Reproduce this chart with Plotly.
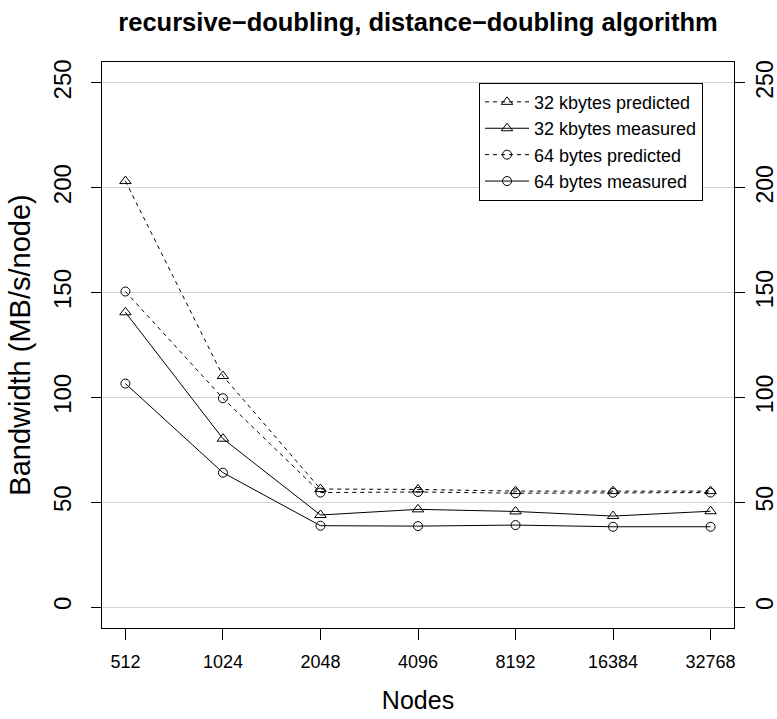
import math
import plotly.graph_objects as go

nodes = [512, 1024, 2048, 4096, 8192, 16384, 32768]
node_labels = ["512", "1024", "2048", "4096", "8192", "16384", "32768"]
kb32_predicted = [203.2, 110.2, 56.3, 56.1, 55.3, 55.3, 55.3]
kb32_measured = [140.6, 80.3, 43.9, 46.6, 45.6, 43.4, 45.7]
b64_predicted = [150.5, 99.6, 54.6, 54.9, 54.3, 54.5, 54.6]
b64_measured = [106.6, 64.1, 38.8, 38.6, 39.1, 38.3, 38.3]
y_ticks = [0, 50, 100, 150, 200, 250]

FONT = "Liberation Sans, Arial, sans-serif"

series = [
    ("32 kbytes predicted", kb32_predicted, "triangle-up-open", "4px,4px", 10),
    ("32 kbytes measured", kb32_measured, "triangle-up-open", "solid", 10),
    ("64 bytes predicted", b64_predicted, "circle-open", "4px,4px", 9),
    ("64 bytes measured", b64_measured, "circle-open", "solid", 9),
]

fig = go.Figure()
for name, vals, sym, dash, msize in series:
    fig.add_trace(go.Scatter(
        x=nodes, y=vals, name=name, mode="lines+markers",
        line=dict(color="black", width=1, dash=dash),
        marker=dict(symbol=sym, size=msize, color="black",
                    line=dict(color="black", width=1)),
    ))

# invisible companion trace so the right-hand duplicate axis is drawn
fig.add_trace(go.Scatter(x=nodes, y=b64_measured, yaxis="y2", mode="markers",
                         marker=dict(opacity=0), showlegend=False, hoverinfo="skip"))

lo = math.log10(512) - 0.24 * math.log10(2)
hi = math.log10(32768) + 0.24 * math.log10(2)
yr = [-10, 260]

W, H = 777, 719
fig.update_layout(
    width=W, height=H,
    margin=dict(l=102, r=W - 734, t=62, b=H - 628),
    paper_bgcolor="white", plot_bgcolor="white",
    font=dict(family=FONT, color="black"),
    title=dict(text="<b>recursive\u2212doubling, distance\u2212doubling algorithm</b>",
               x=418 / W, xanchor="center", y=1 - 22 / H, yanchor="middle",
               font=dict(size=25.5, family=FONT, color="black")),
    showlegend=True,
    legend=dict(x=0.951, xanchor="right", y=0.9635, yanchor="top",
                bgcolor="white", bordercolor="black", borderwidth=1,
                font=dict(size=18, family=FONT, color="black"),
                itemwidth=44, tracegroupgap=0),
    xaxis=dict(type="log", range=[lo, hi], tickvals=nodes, ticktext=node_labels,
               showgrid=False, zeroline=False, showline=True, mirror=True,
               linecolor="black", linewidth=1, ticks="outside", ticklen=11,
               tickcolor="black", tickfont=dict(size=18, family=FONT),
               ticklabelstandoff=6, automargin=False,
               title=dict(text="Nodes", font=dict(size=25, family=FONT), standoff=20)),
    yaxis=dict(range=yr, tickvals=y_ticks, ticktext=[str(v) for v in y_ticks],
               showgrid=True, gridcolor="#d3d3d3", gridwidth=1, zeroline=False,
               showline=True, mirror=True, linecolor="black", linewidth=1,
               ticks="outside", ticklen=10, tickcolor="black", tickangle=-90,
               tickfont=dict(size=24, family=FONT), ticklabelstandoff=10, automargin=False,
               title=dict(text="Bandwidth (MB/s/node)", font=dict(size=29, family=FONT), standoff=10)),
    yaxis2=dict(range=yr, tickvals=y_ticks, ticktext=[str(v) for v in y_ticks],
                overlaying="y", side="right", showgrid=False, zeroline=False,
                showline=False, ticks="outside", ticklen=10, tickcolor="black",
                tickangle=-90, tickfont=dict(size=23, family=FONT), ticklabelstandoff=0,
                automargin=False),
)

# remove the default 8px page margin so the 777x719 figure fills the window exactly
fig.write_html("out.html", config={"displayModeBar": False},
               post_script="document.body.style.margin='0px';document.body.style.overflow='hidden';")
